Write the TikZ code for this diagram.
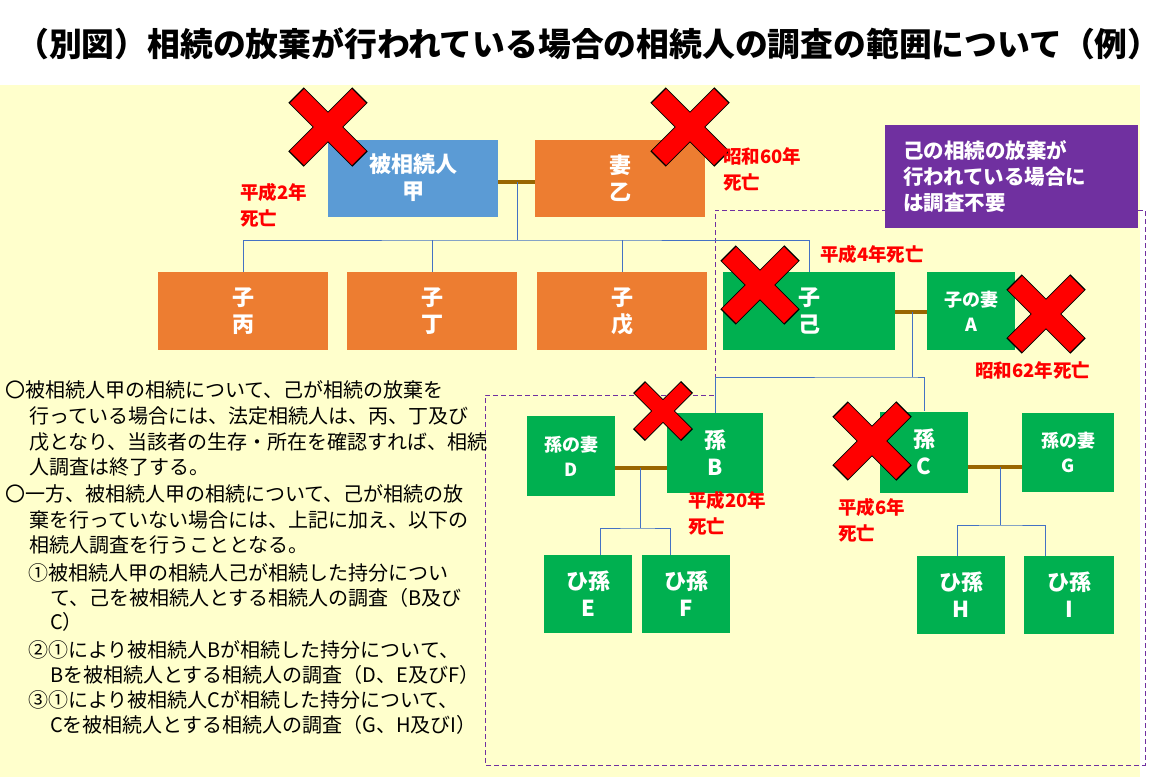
\documentclass[tikz,border=0pt]{standalone}
\usepackage{fontspec}
\setmainfont{Noto Sans CJK JP}
\definecolor{bgyellow}{HTML}{FFFFCC}
\definecolor{kblue}{HTML}{5B9BD5}
\definecolor{korange}{HTML}{ED7D31}
\definecolor{kgreen}{HTML}{00B050}
\definecolor{kpurple}{HTML}{7030A0}
\definecolor{kline}{HTML}{4472C4}
\definecolor{kbrown}{HTML}{996600}
\tikzset{
  person/.style={inner sep=0pt, text=white, align=center, font=\bfseries\fontsize{22}{27}\selectfont},
  child/.style={person, fill=korange, minimum width=170pt, minimum height=78pt},
  grand/.style={person, fill=kgreen},
  wed/.style={kbrown, line width=4pt},
  tie/.style={kline, line width=0.8pt},
  death/.style={text=red, align=left, anchor=north west, inner sep=0pt, font=\bfseries\fontsize{18.5}{26}\selectfont},
  note/.style={anchor=west, inner sep=0pt, font=\fontsize{20}{22}\selectfont}
}
% red cross mark: x, y, half length
\newcommand{\batsu}[3]{%
  \draw[line width=0.62*#3 pt+2pt] (#1-#3,#2-#3) -- (#1+#3,#2+#3) (#1-#3,#2+#3) -- (#1+#3,#2-#3);
  \draw[red, line width=0.62*#3 pt] (#1-#3+1,#2-#3+1) -- (#1+#3-1,#2+#3-1) (#1-#3+1,#2+#3-1) -- (#1+#3-1,#2-#3+1);}
\begin{document}
\begin{tikzpicture}[x=1pt, y=-1pt]
\useasboundingbox (0,0) rectangle (1173,777);
\fill[bgyellow] (0,85) rectangle (1140,777);
\node[anchor=west, inner sep=0pt, font=\bfseries\fontsize{32.8}{36}\selectfont] (title) at (16,44)
  {（別図）相続の放棄が行われている場合の相続人の調査の範囲について（例）};

% dashed area
\draw[kpurple, dash pattern=on 5pt off 3pt, line width=1pt] (715,395) -- (715,210) -- (1145,210) -- (1145,765) -- (485,765) -- (485,395) -- cycle;

% first generation
\node[person, fill=kblue, minimum width=170pt, minimum height=77pt] (kou) at (413,178) {被相続人\\甲};
\node[person, fill=korange, minimum width=170pt, minimum height=77pt] (otsu) at (620,178) {妻\\乙};
\coordinate (m1) at (517,182);
\draw[wed] (kou.east|-m1) -- (otsu.west|-m1);

% children
\node[child] (hei) at (243,311) {子\\丙};
\node[child] (tei) at (432,311) {子\\丁};
\node[child] (bo) at (622,311) {子\\戊};
\node[child, fill=kgreen, minimum width=172pt] (ki) at (809,311) {子\\己};
\node[grand, minimum width=88pt, minimum height=78pt, font=\bfseries\fontsize{18}{25}\selectfont] (wifeA) at (971,311) {子の妻\\A};
\coordinate (h1) at (517,240);
\draw[tie] (m1) -- (h1);
\draw[tie] (hei.north) |- (h1) -| (ki.north);
\draw[tie] (tei.north) -- (tei.north|-h1);
\draw[tie] (bo.north) -- (bo.north|-h1);
\coordinate (m2) at (912,312);
\draw[wed] (ki.east|-m2) -- (wifeA.west|-m2);

% grandchildren
\node[grand, minimum width=96pt, minimum height=80pt] (B) at (715,453) {孫\\B};
\node[grand, minimum width=88pt, minimum height=80pt, font=\bfseries\fontsize{18}{25}\selectfont] (D) at (571,456) {孫の妻\\D};
\node[grand, minimum width=88pt, minimum height=81pt] (C) at (924,452) {孫\\C};
\node[grand, minimum width=92pt, minimum height=79pt, font=\bfseries\fontsize{18}{25}\selectfont] (G) at (1068,452) {孫の妻\\G};
\coordinate (h2) at (912,377);
\draw[tie] (m2) -- (h2);
\draw[tie] (B.north) |- (h2) -| (C.north);
\coordinate (m3) at (640,468);
\draw[wed] (D.east|-m3) -- (B.west|-m3);
\coordinate (m4) at (1000,467);
\draw[wed] (C.east|-m4) -- (G.west|-m4);

% great-grandchildren
\node[grand, minimum width=88pt, minimum height=78pt] (E) at (588,594) {ひ孫\\E};
\node[grand, minimum width=88pt, minimum height=78pt] (F) at (686,594) {ひ孫\\F};
\node[grand, minimum width=88pt, minimum height=78pt] (H) at (961,595) {ひ孫\\H};
\node[grand, minimum width=90pt, minimum height=78pt] (I) at (1069,595) {ひ孫\\I};
\coordinate (h3) at (640,528);
\draw[tie] (m3) -- (h3);
\draw[tie] ([xshift=12pt]E.north) |- (h3) -| ([xshift=-16pt]F.north);
\coordinate (h4) at (1000,525);
\draw[tie] (m4) -- (h4);
\draw[tie] ([xshift=-4pt]H.north) |- (h4) -| ([xshift=-24pt]I.north);

% crosses
\batsu{328}{127}{32}
\batsu{690}{127}{32}
\batsu{760}{285}{32}
\batsu{663}{411}{24}
\batsu{872}{441}{32}
\batsu{1046}{314}{32}

% dates of death
\node[death] (dk) at (240,183) {平成2年\\死亡};
\node[death] (do) at (723,147) {昭和60年\\死亡};
\node[death] (dki) at (820,245) {平成4年死亡};
\node[death] (da) at (975,361) {昭和62年死亡};
\node[death] (db) at (688,491) {平成20年\\死亡};
\node[death] (dc) at (838,498) {平成6年\\死亡};

% purple note
\node[fill=kpurple, text=white, anchor=north west, align=left, inner sep=0pt, minimum width=253pt, minimum height=103pt, text width=253pt, font=\bfseries\fontsize{20.5}{26}\selectfont] (memo) at (885,125)
  {\hspace*{18pt}己の相続の放棄が\\\hspace*{18pt}行われている場合に\\\hspace*{18pt}は調査不要};

% explanation
\node[note] (t1) at (5,390) {〇被相続人甲の相続について、己が相続の放棄を};
\node[note] (t2) at (29,416) {行っている場合には、法定相続人は、丙、丁及び};
\node[note] (t3) at (29,442) {戊となり、当該者の生存・所在を確認すれば、相続};
\node[note] (t4) at (29,467) {人調査は終了する。};
\node[note] (t5) at (5,494) {〇一方、被相続人甲の相続について、己が相続の放};
\node[note] (t6) at (29,520) {棄を行っていない場合には、上記に加え、以下の};
\node[note] (t7) at (29,545) {相続人調査を行うこととなる。};
\node[note] (t8) at (28,573) {①被相続人甲の相続人己が相続した持分につい};
\node[note] (t9) at (50,598) {て、己を被相続人とする相続人の調査（B及び};
\node[note] (t10) at (50,622) {C）};
\node[note] (t11) at (28,650) {②①により被相続人Bが相続した持分について、};
\node[note] (t12) at (50,675) {Bを被相続人とする相続人の調査（D、E及びF）};
\node[note] (t13) at (28,700) {③①により被相続人Cが相続した持分について、};
\node[note] (t14) at (50,725) {Cを被相続人とする相続人の調査（G、H及びI）};
\end{tikzpicture}
\end{document}
